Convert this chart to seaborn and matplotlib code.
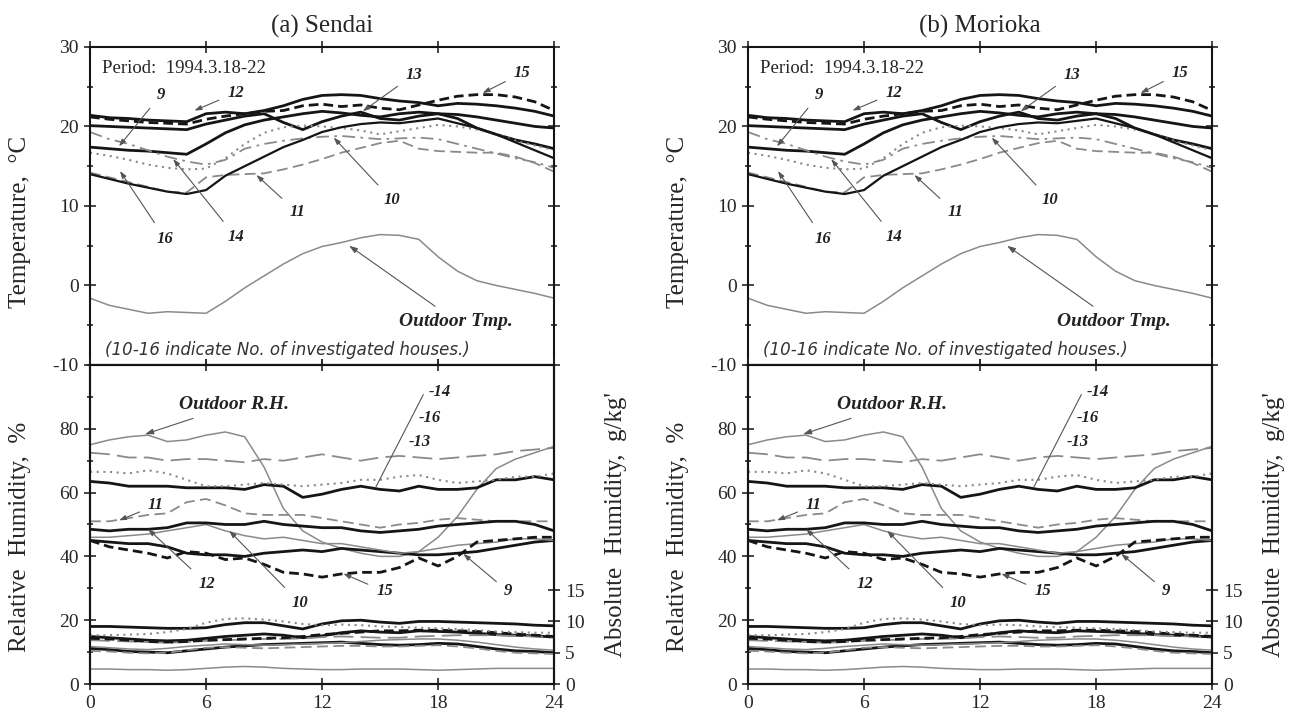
"""Indoor / outdoor temperature and humidity of investigated houses, 1994.3.18-22.

Two panels (Sendai, Morioka), each with a temperature plot on top and a
relative / absolute humidity plot below.
"""
import matplotlib
matplotlib.use("Agg")
import matplotlib.pyplot as plt
from matplotlib.ticker import MultipleLocator
import seaborn as sns

sns.set_theme(style="ticks")
plt.rcParams["font.family"] = ["Liberation Serif", "DejaVu Serif"]
plt.rcParams["axes.linewidth"] = 1.5
plt.rcParams["axes.unicode_minus"] = False

HOURS = list(range(25))

# ---- temperature, degC (hourly, 0..24 h) ----
TEMP_OUT = [-1.6, -2.5, -3.0, -3.5, -3.3, -3.4, -3.5, -2.0, -0.3, 1.2, 2.7, 4.0, 4.9,
            5.4, 6.0, 6.4, 6.3, 5.8, 3.6, 1.8, 0.6, 0.0, -0.5, -1.0, -1.6]
TEMP_9 = [17.4, 17.2, 17.0, 16.9, 16.7, 16.5, 17.8, 19.2, 20.2, 20.8, 21.2, 21.6, 21.9,
          21.7, 21.4, 21.2, 21.6, 21.8, 21.6, 21.0, 19.8, 19.0, 18.3, 17.8, 17.2]
TEMP_10 = [19.3, 18.4, 17.8, 17.0, 16.2, 15.6, 15.2, 15.8, 17.2, 17.8, 18.2, 18.5, 18.7,
           18.8, 18.6, 18.4, 18.5, 18.6, 18.4, 17.8, 17.2, 16.6, 16.0, 15.5, 14.8]
TEMP_11 = [14.2, 13.6, 13.0, 12.4, 11.8, 11.7, 13.6, 13.9, 14.0, 14.1, 14.6, 15.2, 15.9,
           16.7, 17.3, 17.9, 18.2, 17.2, 16.9, 16.8, 16.7, 16.7, 16.2, 15.4, 14.3]
TEMP_12 = [21.4, 21.1, 21.0, 20.8, 20.7, 20.6, 21.6, 21.8, 21.6, 22.0, 22.6, 23.4, 23.9,
           24.0, 23.9, 23.5, 23.2, 23.0, 22.6, 22.9, 22.8, 22.6, 22.3, 21.9, 21.3]
TEMP_13 = [20.1, 20.0, 19.9, 19.8, 19.7, 19.6, 20.3, 20.8, 21.3, 21.6, 20.5, 19.6, 20.6,
           21.3, 21.8, 21.0, 20.8, 21.3, 21.6, 21.5, 21.2, 20.8, 20.4, 20.0, 19.8]
TEMP_14 = [16.7, 16.3, 15.8, 15.2, 14.8, 14.6, 14.7, 16.0, 17.8, 19.2, 19.9, 20.1, 20.0,
           19.8, 19.5, 19.0, 19.4, 19.8, 20.2, 20.0, 19.6, 19.0, 18.2, 17.6, 17.0]
TEMP_15 = [21.2, 20.9, 20.7, 20.5, 20.4, 20.3, 20.9, 21.3, 21.6, 21.9, 22.0, 22.6, 22.8,
           22.5, 22.7, 22.3, 22.1, 22.7, 23.3, 23.8, 24.0, 24.0, 23.7, 23.1, 22.0]
TEMP_16 = [14.0, 13.4, 12.8, 12.3, 11.8, 11.5, 12.0, 13.8, 15.0, 16.2, 17.4, 18.3, 19.3,
           19.9, 20.3, 20.5, 20.4, 20.7, 21.0, 20.4, 19.8, 19.0, 18.0, 17.0, 16.0]

# ---- relative humidity, % ----
RH_OUT = [75.0, 76.5, 77.5, 78.0, 76.0, 76.5, 78.0, 79.0, 77.5, 68.0, 55.0, 48.0, 44.5,
          42.5, 41.0, 40.0, 40.0, 41.5, 46.0, 52.5, 61.0, 67.5, 70.5, 72.5, 74.5]
RH_9 = [45.0, 44.5, 44.0, 44.0, 43.0, 41.0, 40.5, 40.5, 40.0, 41.0, 41.5, 42.0, 41.5,
        42.5, 42.0, 41.5, 41.0, 40.5, 40.5, 41.0, 41.5, 42.5, 43.5, 44.5, 45.0]
RH_10 = [46.0, 46.0, 46.5, 47.0, 48.0, 49.0, 50.0, 48.0, 46.5, 45.5, 46.0, 45.0, 44.0,
         44.0, 43.0, 42.0, 41.0, 41.5, 42.5, 43.5, 44.0, 44.5, 45.5, 45.5, 45.0]
RH_11 = [51.0, 51.0, 52.0, 53.0, 53.5, 57.0, 58.0, 56.0, 53.5, 53.0, 53.0, 53.0, 52.0,
         51.0, 50.0, 49.0, 50.0, 50.5, 51.5, 52.0, 51.5, 51.0, 51.0, 51.0, 51.0]
RH_12 = [48.5, 48.0, 48.5, 48.5, 49.0, 50.5, 50.5, 50.0, 50.0, 51.0, 50.0, 49.5, 49.0,
         49.0, 48.0, 47.5, 48.0, 48.5, 49.5, 50.0, 50.5, 51.0, 51.0, 50.0, 48.0]
RH_13 = [63.5, 63.0, 62.0, 62.0, 62.0, 61.5, 61.5, 61.5, 61.0, 62.5, 62.0, 58.5, 59.5,
         61.0, 62.0, 61.0, 60.5, 62.0, 61.0, 61.0, 61.5, 64.0, 64.0, 65.0, 64.0]
RH_14 = [72.5, 72.0, 71.0, 71.0, 70.0, 70.5, 70.5, 70.0, 69.5, 70.5, 70.0, 71.0, 72.0,
         71.0, 70.0, 71.0, 71.5, 71.0, 70.5, 71.0, 71.5, 72.0, 73.0, 73.5, 74.0]
RH_15 = [45.0, 43.0, 42.0, 41.0, 39.5, 41.5, 41.0, 39.0, 39.5, 37.5, 35.0, 34.5, 33.5,
         34.5, 35.0, 35.0, 36.5, 39.5, 37.0, 40.0, 44.5, 45.0, 45.5, 46.0, 46.0]
RH_16 = [66.5, 66.5, 66.0, 67.0, 66.0, 64.0, 62.0, 62.0, 62.5, 63.0, 62.5, 62.0, 62.5,
         63.0, 64.0, 64.0, 65.0, 65.5, 64.0, 63.0, 63.5, 64.0, 65.0, 65.0, 66.0]

# ---- absolute humidity, g/kg' ----
AH_OUT = [2.4, 2.4, 2.3, 2.3, 2.2, 2.3, 2.5, 2.7, 2.8, 2.7, 2.5, 2.4, 2.3,
          2.3, 2.4, 2.4, 2.4, 2.3, 2.2, 2.3, 2.4, 2.5, 2.5, 2.5, 2.5]
AH_9 = [5.7, 5.5, 5.2, 5.1, 5.0, 5.3, 5.6, 5.9, 6.1, 6.3, 6.4, 6.5, 6.6,
        6.7, 6.5, 6.3, 6.2, 6.3, 6.5, 6.4, 6.0, 5.6, 5.3, 5.2, 5.0]
AH_10 = [6.0, 5.8, 5.6, 5.5, 5.7, 6.0, 6.2, 6.4, 6.3, 6.2, 6.3, 6.4, 6.5,
         6.6, 6.8, 7.0, 7.1, 7.2, 7.2, 7.0, 6.7, 6.3, 5.9, 5.6, 5.4]
AH_11 = [5.3, 5.2, 5.0, 4.9, 5.0, 5.4, 5.8, 5.9, 5.8, 5.7, 5.8, 5.9, 6.0,
         6.1, 6.1, 6.0, 6.0, 6.1, 6.2, 6.0, 5.7, 5.3, 5.0, 4.9, 4.8]
AH_12 = [9.2, 9.2, 9.1, 9.0, 8.9, 8.9, 9.0, 9.5, 9.8, 9.8, 9.3, 8.8, 9.6,
         10.1, 10.2, 9.9, 9.7, 10.0, 10.0, 9.9, 9.8, 9.7, 9.6, 9.4, 9.3]
AH_13 = [7.6, 7.4, 7.2, 7.0, 6.9, 7.0, 7.3, 7.6, 7.8, 8.0, 7.8, 7.4, 7.7,
         8.2, 8.5, 8.3, 8.2, 8.5, 8.4, 8.3, 8.1, 7.9, 7.8, 7.7, 7.5]
AH_14 = [7.0, 6.9, 6.8, 6.7, 6.6, 6.7, 6.9, 7.0, 7.1, 7.2, 7.2, 7.3, 7.5,
         7.6, 7.5, 7.4, 7.4, 7.6, 7.7, 7.8, 7.8, 7.8, 7.7, 7.6, 7.5]
AH_15 = [7.3, 7.2, 7.0, 6.8, 6.7, 6.8, 7.0, 7.1, 7.2, 7.3, 7.4, 7.6, 7.9,
         8.1, 8.3, 8.5, 8.5, 8.6, 8.6, 8.5, 8.4, 8.2, 8.0, 7.8, 7.6]
AH_16 = [7.8, 7.8, 7.9, 8.0, 8.3, 8.8, 9.8, 10.4, 10.5, 10.3, 10.0, 9.6, 9.4,
         9.5, 9.4, 9.2, 9.1, 9.0, 8.9, 8.8, 8.6, 8.4, 8.3, 8.2, 8.2]

TEMPS = {"out": TEMP_OUT, 9: TEMP_9, 10: TEMP_10, 11: TEMP_11, 12: TEMP_12,
         13: TEMP_13, 14: TEMP_14, 15: TEMP_15, 16: TEMP_16}
RHS = {"out": RH_OUT, 9: RH_9, 10: RH_10, 11: RH_11, 12: RH_12,
       13: RH_13, 14: RH_14, 15: RH_15, 16: RH_16}
AHS = {"out": AH_OUT, 9: AH_9, 10: AH_10, 11: AH_11, 12: AH_12,
       13: AH_13, 14: AH_14, 15: AH_15, 16: AH_16}

BLACK = "#151515"
GRAY = "#8a8a8a"
SOLID_THIN = dict(color=GRAY, lw=1.1, linestyle="-")
SOLID_THICK = dict(color=BLACK, lw=2.0, linestyle="-")
DASH_THICK = dict(color=BLACK, lw=2.0, linestyle=(0, (3.5, 1.8)))
DASH_GRAY = dict(color=GRAY, lw=1.3, linestyle=(0, (6, 3)))
LONGDASH_GRAY = dict(color=GRAY, lw=1.3, linestyle=(0, (11, 4)))
DOT_GRAY = dict(color=GRAY, lw=1.5, linestyle=(0, (1, 2.2)))
DASHDOT_GRAY = dict(color=GRAY, lw=1.3, linestyle=(0, (7, 3, 1.5, 3)))

TEMP_STYLES = {"out": SOLID_THIN, 9: SOLID_THICK, 10: DASHDOT_GRAY, 11: DASH_GRAY,
               12: SOLID_THICK, 13: SOLID_THICK, 14: DOT_GRAY, 15: DASH_THICK,
               16: dict(color=BLACK, lw=1.6, linestyle="-")}
RH_STYLES = {"out": SOLID_THIN, 9: SOLID_THICK, 10: SOLID_THIN, 11: DASH_GRAY,
             12: SOLID_THICK, 13: SOLID_THICK, 14: LONGDASH_GRAY, 15: DASH_THICK,
             16: DOT_GRAY}
AH_STYLES = {"out": SOLID_THIN, 9: SOLID_THICK, 10: SOLID_THIN, 11: DASH_GRAY,
             12: SOLID_THICK, 13: SOLID_THICK, 14: LONGDASH_GRAY, 15: DASH_THICK,
             16: DOT_GRAY}

# leader labels: (text, label position, target point)
TEMP_NOTES = [("9", (3.45, 24.0), (1.5, 17.5)), ("12", (7.1, 24.2), (5.4, 22.0)),
              ("13", (16.3, 26.5), (14.1, 21.9)), ("15", (21.9, 26.7), (20.3, 24.2)),
              ("10", (15.2, 10.7), (12.6, 18.6)), ("11", (10.3, 9.2), (8.6, 13.9)),
              ("16", (3.45, 5.9), (1.55, 14.4)), ("14", (7.1, 6.1), (4.3, 15.9))]
RH_NOTES = [("11", (3.0, 56.0), (1.5, 51.3)), ("12", (5.6, 31.5), (3.0, 48.6)),
            ("10", (10.4, 25.5), (7.2, 48.0)), ("15", (14.8, 29.0), (13.1, 34.6)),
            ("9", (21.4, 29.0), (19.3, 40.8))]

LABEL_FONT = dict(family=["Liberation Serif", "DejaVu Serif"], style="italic",
                  weight="bold", size=12, color="#222222")
OUTDOOR_FONT = dict(LABEL_FONT, size=14)
LEADER = dict(arrowstyle="-|>,head_length=0.35,head_width=0.12", color="#555555",
              lw=0.8, shrinkA=4, shrinkB=0)


def draw_panel(ax_t, ax_h, title):
    for key, vals in TEMPS.items():
        sns.lineplot(x=HOURS, y=vals, ax=ax_t, **TEMP_STYLES[key])
    for key, vals in RHS.items():
        sns.lineplot(x=HOURS, y=vals, ax=ax_h, **RH_STYLES[key])
    ax_a = ax_h.twinx()
    for key, vals in AHS.items():
        sns.lineplot(x=HOURS, y=vals, ax=ax_a, **AH_STYLES[key])

    # temperature axes
    ax_t.set_xlim(0, 24)
    ax_t.set_ylim(-10, 30)
    ax_t.set_xticks([0, 6, 12, 18, 24])
    ax_t.set_yticks([-10, 0, 10, 20, 30])
    ax_t.yaxis.set_minor_locator(MultipleLocator(5))
    ax_t.tick_params(which="both", direction="inout", length=9, width=1.2,
                     top=True, right=True, labelbottom=False, labelsize=14)
    ax_t.tick_params(which="minor", length=5)
    ax_t.set_title(title, fontsize=18, pad=10)
    ax_t.set_ylabel("Temperature,  °C", fontsize=18)
    ax_t.yaxis.set_label_coords(-0.128, 0.45)

    # humidity axes
    ax_h.set_xlim(0, 24)
    ax_h.set_ylim(0, 100)
    ax_h.set_xticks([0, 6, 12, 18, 24])
    ax_h.set_xticklabels(["0", "6", "12", "18", "24"])
    ax_h.set_yticks([0, 20, 40, 60, 80])
    ax_h.yaxis.set_minor_locator(MultipleLocator(10))
    ax_h.tick_params(which="both", direction="inout", length=9, width=1.2,
                     top=True, right=False, labelsize=14)
    ax_h.tick_params(which="minor", length=5)
    ax_h.set_xlabel("")
    ax_h.set_ylabel("Relative  Humidity,  %", fontsize=18)
    ax_h.yaxis.set_label_coords(-0.128, 0.46)

    ax_a.set_ylim(0, 51)
    ax_a.set_yticks([0, 5, 10, 15])
    ax_a.tick_params(direction="inout", length=9, width=1.2, labelsize=14)
    ax_a.set_ylabel("Absolute  Humidity,  g/kg'", fontsize=18)
    ax_a.yaxis.set_label_coords(1.11, 0.5)

    # texts
    ax_t.text(0.6, 27.3, "Period:  1994.3.18-22", fontsize=13.5, va="center")
    ax_t.text(0.8, -8.1, "(10-16 indicate No. of investigated houses.)",
              fontsize=12, style="italic", va="center",
              family=["DejaVu Sans"], color="#333333")
    ax_t.annotate("Outdoor Tmp.", xy=(13.4, 5.0), xytext=(16.0, -4.5),
                  va="center", arrowprops=LEADER, **OUTDOOR_FONT)
    for text, pos, tip in TEMP_NOTES:
        ax_t.annotate(text, xy=tip, xytext=pos, va="center", ha="left",
                      arrowprops=LEADER, **LABEL_FONT)

    ax_h.annotate("Outdoor R.H.", xy=(2.85, 78.3), xytext=(4.6, 87.5),
                  va="center", arrowprops=LEADER, **OUTDOOR_FONT)
    for text, pos, tip in RH_NOTES:
        ax_h.annotate(text, xy=tip, xytext=pos, va="center", ha="left",
                      arrowprops=LEADER, **LABEL_FONT)
    # stacked 14 / 16 / 13 labels sharing one leader line
    ax_h.annotate("", xy=(14.7, 60.8), xytext=(17.3, 91.5),
                  arrowprops=dict(arrowstyle="-", color="#555555", lw=0.8))
    for text, pos in [("14", (17.5, 91.5)), ("16", (17.0, 83.5)), ("13", (16.5, 76.0))]:
        ax_h.text(pos[0], pos[1], "-" + text, va="center", **LABEL_FONT)

    for ax in (ax_t, ax_h, ax_a):
        for side in ax.spines.values():
            side.set_linewidth(1.5)
            side.set_color(BLACK)


fig = plt.figure(figsize=(12.93, 7.21), dpi=100)
panels = [(0.0696, "(a) Sendai"), (0.5785, "(b) Morioka")]
for left, title in panels:
    ax_t = fig.add_axes([left, 0.4938, 0.359, 0.4411])
    ax_h = fig.add_axes([left, 0.0513, 0.359, 0.4425])
    draw_panel(ax_t, ax_h, title)

fig.savefig("out.png", dpi=100, facecolor="white")
